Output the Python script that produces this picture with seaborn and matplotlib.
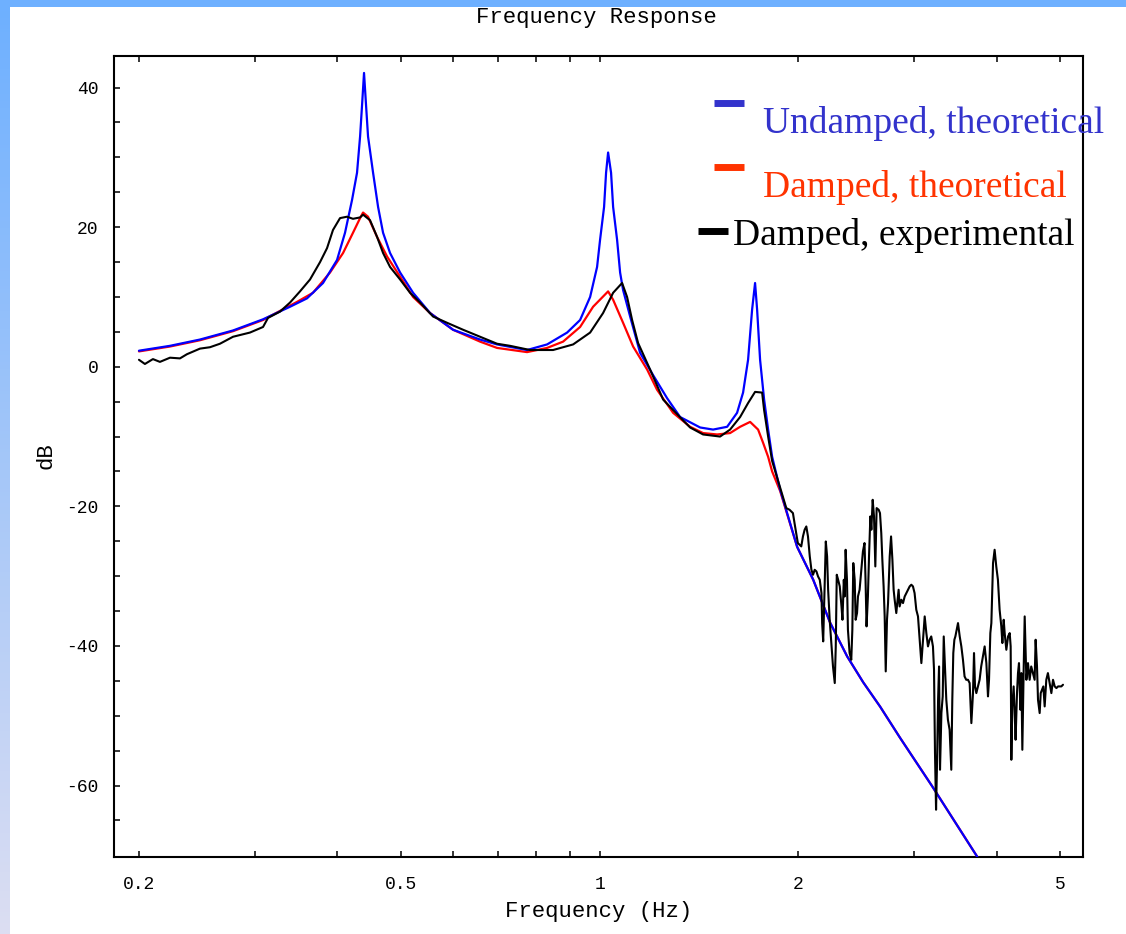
import numpy as np
import pandas as pd
import matplotlib
matplotlib.use("Agg")
import matplotlib.pyplot as plt
from matplotlib.lines import Line2D
from matplotlib.patches import Rectangle
from matplotlib.ticker import NullFormatter, FixedLocator
import seaborn as sns

# ---------------- data ----------------
undamped_f = [0.2000, 0.2229, 0.2475, 0.2778, 0.3085, 0.3390, 0.3597, 0.3804,
              0.3995, 0.4108, 0.4210, 0.4284, 0.4330, 0.4360, 0.4390, 0.4421,
              0.4452, 0.4531, 0.4611, 0.4692, 0.4808, 0.4980, 0.5211, 0.5529,
              0.5992, 0.6585, 0.6987, 0.7759, 0.8321, 0.8924, 0.9338, 0.9671,
              0.9909, 1.0013, 1.0154, 1.0225, 1.0298, 1.0405, 1.0480, 1.0626,
              1.0739, 1.0851, 1.1122, 1.1515, 1.2051, 1.2654, 1.3242, 1.4202,
              1.4860, 1.5607, 1.6158, 1.6501, 1.6792, 1.7030, 1.7207, 1.7330,
              1.7511, 1.7759, 1.8010, 1.8264, 1.8781, 1.9931, 2.1078, 2.2373,
              2.3736, 2.5100, 2.6634, 2.8570, 3.1940, 3.7386]
undamped_db = [2.3, 3.0, 3.9, 5.2, 6.8, 8.6, 9.8, 12.0,
               15.3, 19.2, 23.9, 27.8, 33.0, 37.5, 42.1, 37.5,
               33.0, 27.8, 22.9, 19.2, 16.3, 13.5, 10.6, 7.7,
               5.3, 3.9, 3.2, 2.4, 3.2, 4.9, 6.7, 10.0,
               14.3, 18.2, 22.9, 27.8, 30.7, 27.8, 22.9, 18.2,
               13.5, 11.0, 7.2, 2.0, -1.2, -4.5, -7.2, -8.7,
               -9.0, -8.6, -6.6, -3.7, 1.0, 8.2, 12.0, 8.2,
               1.0, -4.7, -9.0, -12.9, -17.6, -25.8, -30.5, -36.7,
               -41.5, -45.2, -48.7, -53.2, -60.1, -70.2]

damped_f = [0.2000, 0.2229, 0.2475, 0.2778, 0.3085, 0.3273, 0.3474, 0.3673,
            0.3898, 0.4080, 0.4224, 0.4330, 0.4375, 0.4452, 0.4595, 0.4758,
            0.4980, 0.5211, 0.5529, 0.5992, 0.6585, 0.6987, 0.7759, 0.8321,
            0.8799, 0.9338, 0.9772, 1.0298, 1.0480, 1.0851, 1.1238, 1.1802,
            1.2219, 1.2923, 1.3713, 1.4350, 1.5070, 1.5769, 1.6331, 1.6912,
            1.7390, 1.7697, 1.8010, 1.8264, 1.8781, 1.9931, 2.1078, 2.2373,
            2.3736, 2.5100, 2.6634, 2.8570, 3.1940, 3.7386]
damped_db = [2.2, 2.9, 3.8, 5.1, 6.7, 8.0, 9.3, 10.6,
             13.5, 16.3, 19.2, 21.3, 22.1, 21.5, 18.6, 15.8,
             12.9, 10.0, 7.7, 5.3, 3.6, 2.7, 2.1, 2.7,
             3.6, 5.7, 8.6, 10.8, 9.6, 6.3, 2.9, -0.4,
             -3.3, -6.6, -8.6, -9.5, -9.7, -9.5, -8.6, -7.9,
             -9.0, -10.9, -12.9, -15.0, -17.8, -25.8, -30.5, -36.7,
             -41.5, -45.2, -48.7, -53.2, -60.1, -70.2]

exp_f = [0.2000, 0.2042, 0.2100, 0.2152, 0.2229, 0.2308, 0.2365, 0.2475,
         0.2563, 0.2654, 0.2778, 0.2947, 0.3085, 0.3139, 0.3273, 0.3390,
         0.3510, 0.3635, 0.3765, 0.3858, 0.3939, 0.4037, 0.4137, 0.4224,
         0.4330, 0.4375, 0.4483, 0.4595, 0.4692, 0.4808, 0.4980, 0.5156,
         0.5339, 0.5587, 0.5868, 0.6206, 0.6585, 0.6987, 0.7312, 0.7840,
         0.8497, 0.9113, 0.9671, 1.0119, 1.0480, 1.0814, 1.1004, 1.1199,
         1.1436, 1.1926, 1.2481, 1.2923, 1.3713, 1.4350, 1.5227, 1.5769,
         1.6331, 1.6792, 1.7207, 1.7636, 1.7759, 1.8010, 1.8264]
exp_db = [1.0, 0.4, 1.1, 0.7, 1.3, 1.2, 1.8, 2.6,
          2.8, 3.3, 4.3, 4.9, 5.7, 7.0, 7.9, 9.2,
          10.8, 12.5, 15.0, 17.0, 19.6, 21.3, 21.5, 21.2,
          21.4, 21.8, 21.0, 18.6, 16.3, 14.3, 12.5, 10.6,
          9.2, 7.2, 6.3, 5.3, 4.3, 3.3, 3.0, 2.4,
          2.4, 3.2, 4.9, 7.7, 10.6, 12.0, 10.0, 6.7,
          3.4, -0.4, -4.7, -6.2, -8.7, -9.7, -10.0, -9.0,
          -7.2, -5.2, -3.6, -3.7, -6.2, -10.0, -13.5]

exp_tail_f = [1.919, 1.941, 1.964, 1.975, 1.998, 2.022, 2.034, 2.046,
              2.058, 2.070, 2.083, 2.095, 2.107, 2.119, 2.132, 2.144,
              2.157, 2.170, 2.175, 2.183, 2.190, 2.195, 2.203, 2.213,
              2.221, 2.233, 2.246, 2.259, 2.273, 2.281, 2.289, 2.300,
              2.313, 2.327, 2.335, 2.346, 2.353, 2.361, 2.372, 2.380,
              2.394, 2.408, 2.417, 2.425, 2.437, 2.445, 2.457, 2.465,
              2.479, 2.494, 2.508, 2.522, 2.531, 2.540, 2.552, 2.562,
              2.574, 2.583, 2.595, 2.607, 2.619, 2.631, 2.650, 2.662,
              2.674, 2.684, 2.696, 2.706, 2.716, 2.728, 2.738, 2.754,
              2.767, 2.780, 2.792, 2.802, 2.818, 2.831, 2.841, 2.851,
              2.868, 2.885, 2.902, 2.919, 2.936, 2.953, 2.970, 2.987,
              3.004, 3.022, 3.040, 3.058, 3.076, 3.094, 3.112, 3.130,
              3.148, 3.166, 3.184, 3.203, 3.215, 3.226, 3.238, 3.249,
              3.261, 3.272, 3.283, 3.299, 3.314, 3.326, 3.337, 3.356,
              3.375, 3.395, 3.415, 3.427, 3.439, 3.452, 3.464, 3.480,
              3.496, 3.517, 3.537, 3.557, 3.577, 3.598, 3.620, 3.641,
              3.663, 3.684, 3.697, 3.710, 3.727, 3.748, 3.770, 3.791,
              3.814, 3.837, 3.860, 3.882, 3.896, 3.914, 3.928, 3.951,
              3.973, 3.996, 4.019, 4.043, 4.067, 4.082, 4.101, 4.115,
              4.139, 4.164, 4.188, 4.202, 4.212, 4.226, 4.246, 4.260,
              4.275, 4.296, 4.311, 4.326, 4.347, 4.362, 4.377, 4.398,
              4.413, 4.439, 4.464, 4.490, 4.515, 4.542, 4.569, 4.585,
              4.607, 4.623, 4.650, 4.667, 4.688, 4.710, 4.732, 4.759,
              4.786, 4.815, 4.844, 4.872, 4.901, 4.930, 4.959, 5.016,
              5.045]
exp_tail_db = [-20.25, -20.49, -20.97, -22.40, -25.26, -25.74, -24.31, -23.35,
               -22.88, -24.31, -27.17, -29.09, -29.80, -29.09, -29.32, -30.04,
               -30.52, -32.43, -36.73, -39.35, -34.34, -30.52, -25.03, -27.17,
               -31.95, -36.25, -39.59, -42.94, -45.32, -40.07, -29.80, -30.52,
               -31.47, -34.34, -36.25, -30.52, -32.91, -26.22, -30.52, -37.68,
               -41.02, -41.98, -37.68, -28.13, -30.52, -36.25, -35.29, -32.91,
               -31.95, -29.09, -26.46, -25.26, -30.52, -37.20, -32.91, -27.17,
               -21.44, -23.35, -19.06, -21.44, -28.61, -20.25, -20.49, -20.97,
               -23.83, -27.65, -31.47, -35.77, -43.65, -36.25, -33.86, -27.17,
               -24.31, -27.65, -31.95, -33.38, -35.29, -33.38, -31.95, -34.34,
               -33.38, -33.86, -32.91, -32.43, -31.95, -31.47, -31.23, -31.47,
               -32.43, -34.82, -35.77, -39.11, -42.46, -39.11, -35.77, -38.16,
               -40.07, -39.11, -38.64, -40.07, -43.41, -55.35, -63.47, -56.79,
               -47.71, -42.94, -57.74, -49.62, -47.23, -38.64, -41.98, -47.71,
               -50.58, -52.01, -57.74, -47.71, -41.02, -39.11, -38.64, -37.68,
               -36.73, -38.64, -40.07, -41.98, -44.37, -44.85, -44.85, -45.32,
               -51.06, -46.76, -41.02, -45.80, -46.76, -45.80, -44.85, -42.94,
               -41.50, -40.07, -42.46, -47.23, -44.85, -38.16, -36.73, -28.13,
               -26.22, -28.61, -30.52, -34.82, -37.20, -39.59, -36.25, -38.16,
               -40.55, -38.64, -38.16, -40.07, -56.31, -48.67, -45.80, -49.14,
               -53.44, -46.76, -43.89, -42.46, -49.14, -43.89, -54.88, -42.94,
               -35.77, -44.85, -42.46, -44.85, -42.94, -43.89, -44.85, -39.11,
               -42.94, -47.71, -49.62, -46.76, -46.28, -45.80, -48.67, -44.85,
               -43.89, -45.32, -46.76, -44.85, -45.80, -46.04, -45.80, -45.80,
               -45.56]

x_major = [0.2, 0.5, 1, 2, 5]
x_major_labels = ["0.2", "0.5", "1", "2", "5"]
x_minor = [0.3, 0.4, 0.6, 0.7, 0.8, 0.9, 3, 4]
y_major = [-60, -40, -20, 0, 20, 40]
y_major_labels = ["-60", "-40", "-20", "0", "20", "40"]
y_minor = [-65, -55, -50, -45, -35, -30, -25, -15, -10, -5, 5, 10, 15, 25, 30, 35]

series_labels = ["Undamped, theoretical", "Damped, theoretical", "Damped, experimental"]

# ---------------- styling ----------------
sns.set_theme(style="white")
plt.rcParams["font.family"] = ["Liberation Mono", "DejaVu Sans Mono"]
plt.rcParams["axes.unicode_minus"] = False

W, H = 1126, 934
fig = plt.figure(figsize=(W / 100, H / 100), dpi=100)
fig.patch.set_facecolor("white")

# slide decoration: top band and left gradient strip
fig.patches.append(Rectangle((0, 1 - 7 / H), 1, 7 / H, transform=fig.transFigure,
                             facecolor="#6eb0ff", edgecolor="none", zorder=0))
bg = fig.add_axes([0, 0, 10 / W, 1 - 7 / H])
grad = np.linspace(0, 1, 256)[:, None]
top_c = np.array([110, 176, 255]) / 255
bot_c = np.array([220, 222, 242]) / 255
img = top_c[None, None, :] * (1 - grad[:, :, None]) + bot_c[None, None, :] * grad[:, :, None]
bg.imshow(img, aspect="auto", extent=[0, 1, 0, 1])
bg.set_axis_off()

ax = fig.add_axes([114 / W, 1 - 856.7 / H, (1083 - 114) / W, (856.7 - 55.5) / H])
ax.set_facecolor("white")

df_d = pd.DataFrame({"f": damped_f, "db": damped_db})
df_u = pd.DataFrame({"f": undamped_f, "db": undamped_db})
df_e = pd.DataFrame({"f": exp_f + exp_tail_f, "db": exp_db + exp_tail_db})

sns.lineplot(data=df_d, x="f", y="db", ax=ax, color="#ff0000", linewidth=1.6,
             estimator=None, sort=False, zorder=3)
sns.lineplot(data=df_u, x="f", y="db", ax=ax, color="#0000ff", linewidth=1.6,
             estimator=None, sort=False, zorder=4)
sns.lineplot(data=df_e, x="f", y="db", ax=ax, color="#000000", linewidth=1.5,
             estimator=None, sort=False, zorder=5)

ax.set_xscale("log")
ax.set_xlim(0.1833, 5.41)
ax.set_ylim(-70.2, 44.6)

ax.xaxis.set_major_locator(FixedLocator(x_major))
ax.set_xticklabels(x_major_labels)
ax.xaxis.set_minor_locator(FixedLocator(x_minor))
ax.xaxis.set_minor_formatter(NullFormatter())
ax.set_yticks(y_major)
ax.set_yticklabels(y_major_labels)
ax.yaxis.set_minor_locator(FixedLocator(y_minor))

ax.tick_params(which="both", direction="in", top=True, bottom=True, left=True,
               right=False, length=4.5, width=1.1, color="black",
               labelsize=13, labelcolor="black")
ax.tick_params(axis="x", which="major", pad=14)
ax.tick_params(axis="y", which="major", pad=11)

for s in ax.spines.values():
    s.set_visible(True)
    s.set_color("black")
    s.set_linewidth(1.5)

ax.set_xlabel("Frequency (Hz)", fontsize=16, labelpad=6, color="black")
ax.set_ylabel("dB", fontsize=16, labelpad=7, color="black")
ax.grid(False)

fig.text(596 / W, 1 - 18 / H, "Frequency Response", fontsize=16, ha="center",
         va="center", color="black")

# legend-like annotations
legend_colors = ["#3333cc", "#ff3300", "#000000"]
dash_x = [(714, 744), (714, 744), (698, 728)]
dash_y = [102.5, 166.5, 230.5]
text_x = [763, 763, 733]
text_base = [133, 197, 245]
for lab, c, dx, dy, tx, tb in zip(series_labels, legend_colors, dash_x, dash_y, text_x, text_base):
    fig.add_artist(Line2D([dx[0] / W, dx[1] / W], [1 - dy / H, 1 - dy / H],
                          transform=fig.transFigure, color=c, linewidth=5,
                          solid_capstyle="butt", zorder=10))
    fig.text(tx / W, 1 - tb / H, lab, fontsize=27, family="Liberation Serif",
             color=c, va="baseline", ha="left", zorder=10)

fig.savefig("out.png", dpi=100)
